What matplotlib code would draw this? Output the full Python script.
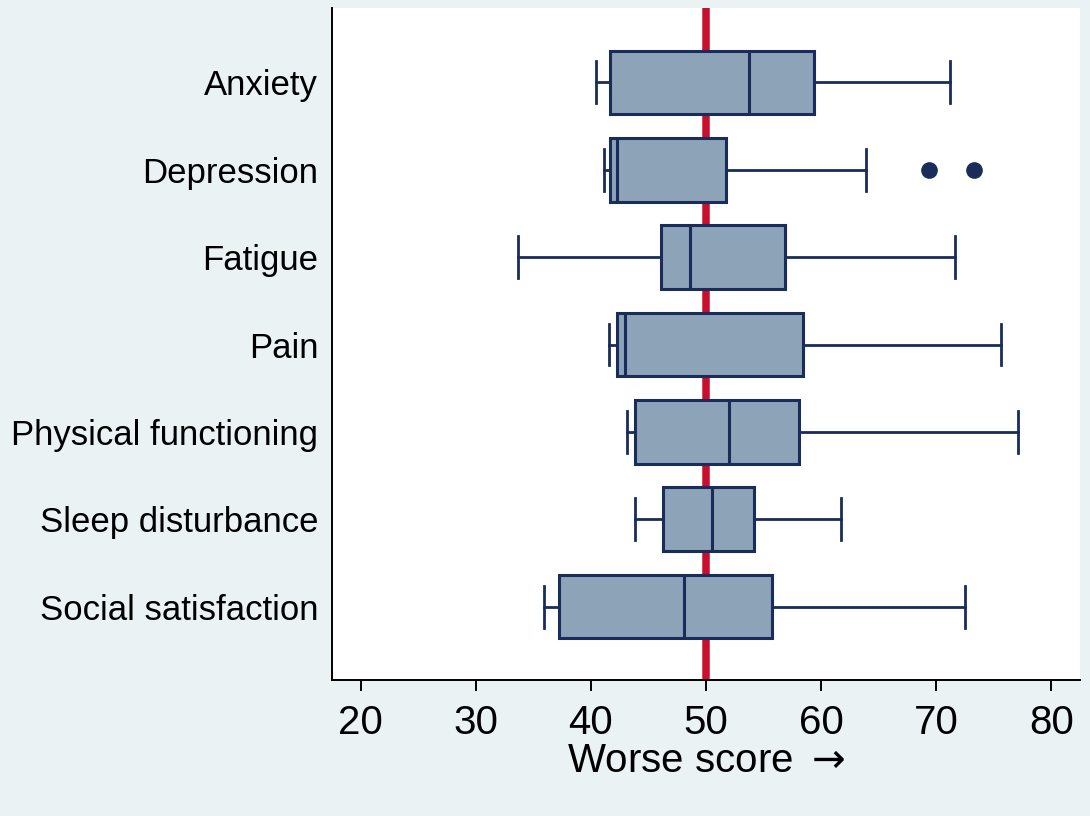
import matplotlib
matplotlib.use("Agg")
import matplotlib.pyplot as plt

categories = ["Anxiety", "Depression", "Fatigue", "Pain", "Physical functioning",
              "Sleep disturbance", "Social satisfaction"]
whislo = [40.4, 41.1, 33.7, 41.6, 43.1, 43.8, 35.9]
q1 = [41.7, 41.65, 46.1, 42.3, 43.8, 46.3, 37.2]
median = [53.7, 42.3, 48.6, 43.0, 52.0, 50.5, 48.1]
q3 = [59.4, 51.7, 56.9, 58.4, 58.1, 54.2, 55.7]
whishi = [71.2, 63.9, 71.6, 75.6, 77.1, 61.7, 72.5]
fliers = [[], [69.4, 73.3], [], [], [], [], []]
ref_value = 50
xticks = [20, 30, 40, 50, 60, 70, 80]

bg = "#EAF2F3"
fill = "#8DA3B8"
navy = "#1A2D5A"
red = "#C8102E"

font = ["Liberation Sans", "DejaVu Sans"]
plt.rcParams["mathtext.fontset"] = "dejavusans"

fig = plt.figure(figsize=(10.9, 8.16), dpi=100, facecolor=bg)
ax = fig.add_axes([0.3046, 0.1667, 0.6862, 0.8233])
ax.set_facecolor("white")

stats = []
for i, c in enumerate(categories):
    stats.append(dict(label=c, whislo=whislo[i], q1=q1[i], med=median[i],
                      q3=q3[i], whishi=whishi[i], fliers=fliers[i]))
positions = list(range(1, len(categories) + 1))

ax.axvline(ref_value, color=red, lw=5.4, zorder=1)
ax.bxp(stats, positions=positions, vert=False, widths=0.73, capwidths=0.48,
       patch_artist=True, showfliers=True,
       boxprops=dict(facecolor=fill, edgecolor=navy, linewidth=2.2),
       medianprops=dict(color=navy, linewidth=2.2),
       whiskerprops=dict(color=navy, linewidth=2.0),
       capprops=dict(color=navy, linewidth=2.0),
       flierprops=dict(marker="o", markerfacecolor=navy, markeredgecolor=navy,
                       markersize=11),
       zorder=3)

ax.set_xlim(17.5, 82.5)
ax.set_ylim(7.84, 0.15)
ax.set_xticks(xticks)
ax.set_xticklabels([str(t) for t in xticks], family=font, fontsize=29)
ax.set_yticks(positions)
ax.set_yticklabels(categories, family=font, fontsize=25)
ax.tick_params(axis="y", length=0, pad=10)
ax.tick_params(axis="x", length=8, width=1.4, pad=9, direction="out")
ax.set_xlabel(r"Worse score $\rightarrow$", family=font, fontsize=29, labelpad=0)

for s in ["top", "right"]:
    ax.spines[s].set_visible(False)
for s in ["left", "bottom"]:
    ax.spines[s].set_linewidth(1.4)
    ax.spines[s].set_color("black")

fig.savefig("out.png", dpi=100, facecolor=bg)
